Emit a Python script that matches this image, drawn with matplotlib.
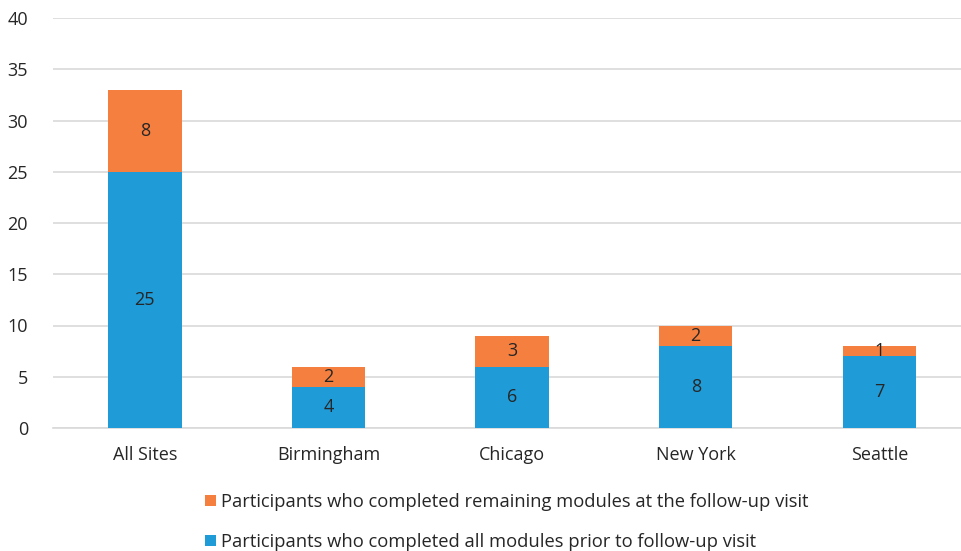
import matplotlib.pyplot as plt

sites = ['All Sites', 'Birmingham', 'Chicago', 'New York', 'Seattle']
prior = [25, 4, 6, 8, 7]
remaining = [8, 2, 3, 2, 1]
label_remaining = 'Participants who completed remaining modules at the follow-up visit'
label_prior = 'Participants who completed all modules prior to follow-up visit'

plt.rcParams['font.family'] = ['Open Sans', 'DejaVu Sans']

fig = plt.figure(figsize=(9.62, 5.51), dpi=100)
ax = fig.add_axes([53 / 962, 123 / 551, 909 / 962, 410 / 551])

x = list(range(len(sites)))
b1 = ax.bar(x, prior, width=0.40, color='#1F9BD7', label=label_prior, zorder=3)
b2 = ax.bar(x, remaining, width=0.40, bottom=prior, color='#F47F3F',
            label=label_remaining, zorder=3)
ax.bar_label(b1, label_type='center', fontsize=13, color='#262626')
ax.bar_label(b2, label_type='center', fontsize=13, color='#262626')

ax.set_ylim(0, 40)
ax.set_xlim(-0.5, 4.45)
ax.set_yticks(range(0, 41, 5))
ax.set_xticks(x)
ax.set_xticklabels(sites)
ax.tick_params(axis='both', length=0, labelsize=13, colors='#262626')
ax.tick_params(axis='x', pad=13)
ax.tick_params(axis='y', pad=18)
ax.grid(axis='y', color='#D9D9D9', linewidth=1.2, zorder=0)
for s in ['top', 'right', 'left']:
    ax.spines[s].set_visible(False)
ax.spines['bottom'].set_color('#D9D9D9')
ax.spines['bottom'].set_linewidth(1.2)

handles = [b2, b1]
fig.legend(handles, [label_remaining, label_prior], loc='lower left',
           bbox_to_anchor=(188 / 962, -0.03), frameon=False, fontsize=13.2,
           handlelength=0.6, handleheight=0.6, handletextpad=0.3,
           labelspacing=1.2, labelcolor='#262626')

fig.savefig('out.png', dpi=100)
